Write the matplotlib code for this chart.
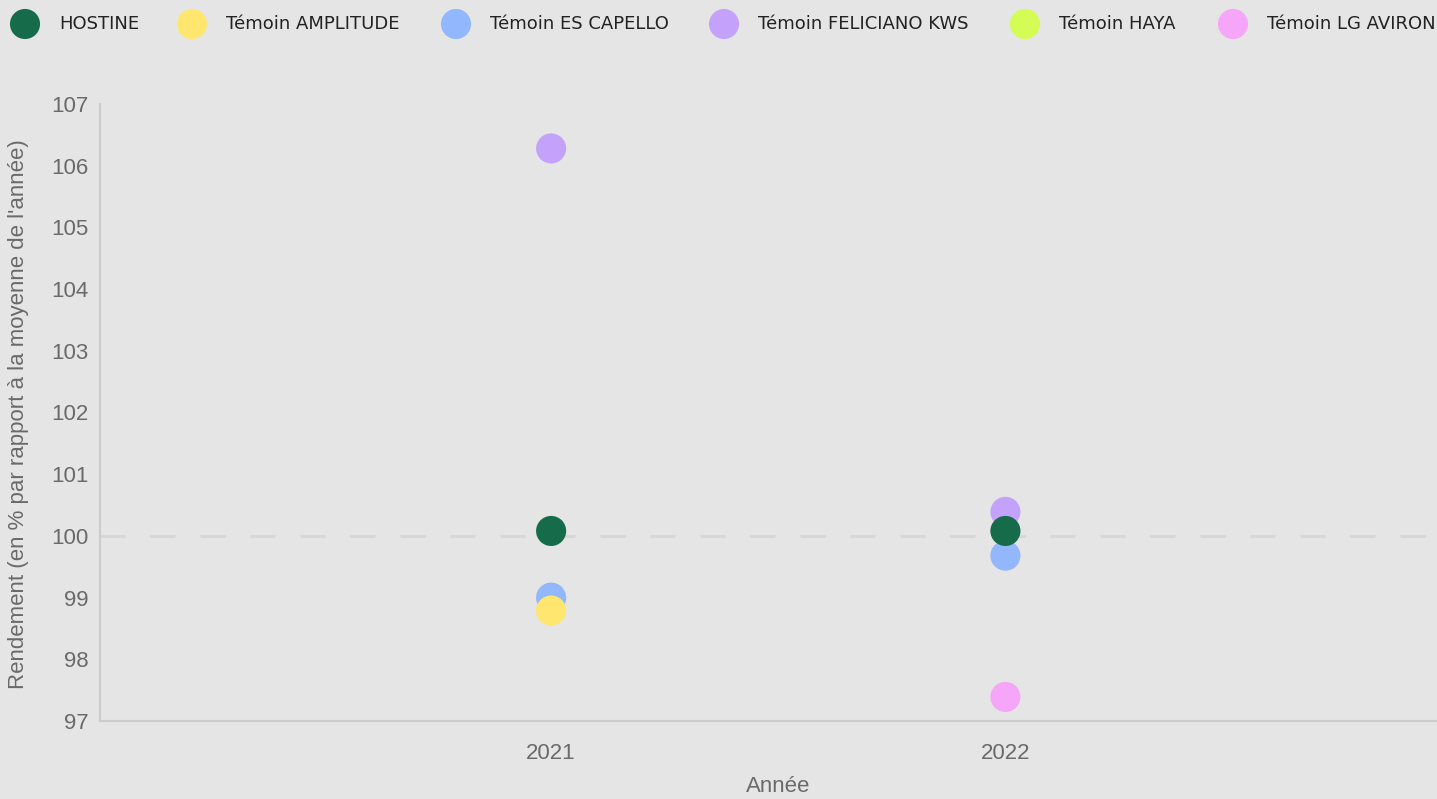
import matplotlib
matplotlib.use('Agg')
import matplotlib.pyplot as plt

# data
years = [2021, 2022]
series = ["HOSTINE", "Témoin AMPLITUDE", "Témoin ES CAPELLO",
          "Témoin FELICIANO KWS", "Témoin HAYA", "Témoin LG AVIRON"]
colors = ["#166b4a", "#ffe66e", "#93b7fc", "#c4a2fa", "#d4fc54", "#f5a6f8"]
hostine = [100.08, 100.08]
amplitude = [98.79, None]
es_capello = [99.0, 99.68]
feliciano = [106.28, 100.39]
haya = [None, None]
lg_aviron = [None, 97.39]
values = [hostine, amplitude, es_capello, feliciano, haya, lg_aviron]
y_ticks = list(range(97, 108))

W, H = 1437, 799
fig = plt.figure(figsize=(W / 100, H / 100), dpi=100, facecolor="#e5e5e5")
ax = fig.add_axes([100 / W, 1 - 721 / H, (W - 100) / W, (721 - 104) / H])
ax.set_facecolor("#e5e5e5")

# draw order: HOSTINE on top
order = [3, 2, 1, 4, 5, 0]
for z, i in enumerate(order):
    xs = [x for x, v in zip(years, values[i]) if v is not None]
    ys = [v for v in values[i] if v is not None]
    if xs:
        ax.scatter(xs, ys, s=470, color=colors[i], edgecolors="none", zorder=3 + z)

ax.axhline(100, color="#d6d6d6", lw=2, ls=(0, (9, 9)), zorder=1)

ax.set_xlim(2020.007, 2022.95)
ax.set_ylim(97, 107)
ax.set_xticks(years)
ax.set_yticks(y_ticks)
ax.tick_params(length=0, labelsize=16, labelcolor="#6a6a6a")
ax.tick_params(axis="y", pad=8)
ax.tick_params(axis="x", pad=16)
for lab in ax.get_xticklabels() + ax.get_yticklabels():
    lab.set_fontfamily("Liberation Sans")
for s in ["top", "right"]:
    ax.spines[s].set_visible(False)
for s in ["left", "bottom"]:
    ax.spines[s].set_color("#cccccc")
    ax.spines[s].set_linewidth(1.5)

fig.text(778 / W, 1 - 787 / H, "Année", ha="center", va="center",
         fontsize=16, color="#6a6a6a", family="Liberation Sans")
fig.text(19 / W, 1 - 414 / H, "Rendement (en % par rapport à la moyenne de l'année)",
         ha="center", va="center", rotation=90, fontsize=16, color="#6a6a6a",
         family="Liberation Sans")

# legend row
leg = fig.add_axes([0, 1 - 50 / H, 1, 50 / H])
leg.set_xlim(0, W)
leg.set_ylim(50, 0)
leg.axis("off")
dot_x = [25, 192, 456, 724, 1025, 1233]
for i, name in enumerate(series):
    leg.scatter(dot_x[i], 24, s=470, color=colors[i], edgecolors="none")
    leg.text(dot_x[i] + 34, 24, name, ha="left", va="center", fontsize=13,
             color="#222222", family="DejaVu Sans")

fig.savefig("out.png", dpi=100, facecolor=fig.get_facecolor())
